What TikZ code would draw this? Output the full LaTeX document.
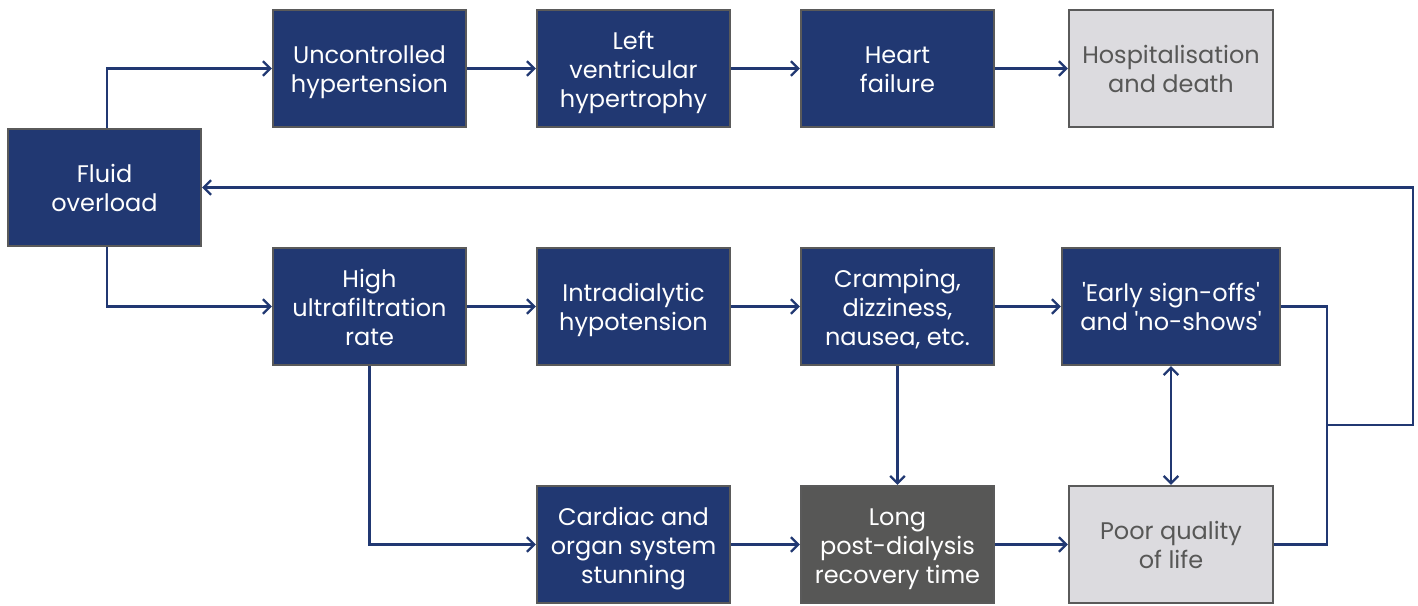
\documentclass[tikz,border=0pt]{standalone}
\usepackage{fontspec}
\setmainfont{Poppins}
\usetikzlibrary{arrows.meta}
\definecolor{navy}{HTML}{213872}
\definecolor{bordergrey}{HTML}{5A5A5A}
\definecolor{darkbox}{HTML}{575756}
\definecolor{lightbox}{HTML}{DCDBDF}
\definecolor{greytext}{HTML}{575756}
\newcommand{\sq}{\textquotesingle}
\newcommand{\tp}{\rule{0pt}{20.5pt}}
\newcommand{\bm}{\rule[-5.7pt]{0pt}{5.7pt}}
\begin{document}
\begin{tikzpicture}[x=0.75pt,y=-0.75pt,
  box/.style={rectangle,draw=bordergrey,line width=1.8pt,fill=navy,text=white,
    minimum width=144.75pt,minimum height=87.75pt,align=center,inner sep=0pt,
    font=\fontsize{18}{21.75}\selectfont},
  lbox/.style={box,fill=lightbox,text=greytext,minimum width=153pt},
  dbox/.style={box,fill=darkbox},
  conn/.style={draw=navy,line width=1.65pt},
  arr/.style={conn,-{Straight Barb[length=5.5pt,width=11pt,line width=1.65pt]}},
  darr/.style={conn,{Straight Barb[length=5.5pt,width=11pt,line width=1.65pt]}-{Straight Barb[length=5.5pt,width=11pt,line width=1.65pt]}}]
\useasboundingbox (0,0) rectangle (1418,606);
\node[box] (fluid) at (104.5,187.5) {\tp Fluid\\overload\bm};
\node[box] (unc) at (369.5,68.5) {\tp Uncontrolled\\hypertension\bm};
\node[box] (lvh) at (633.5,68.5) {\tp Left\\ventricular\\hypertrophy\bm};
\node[box] (hf) at (897.5,68.5) {\tp Heart\\failure\bm};
\node[lbox] (hosp) at (1171,68.5) {\tp Hospitalisation\\and death\bm};
\node[box] (huf) at (369.5,306.5) {\tp High\\ultrafiltration\\rate\bm};
\node[box] (idh) at (633.5,306.5) {\tp Intradialytic\\hypotension\bm};
\node[box] (cramp) at (897.5,306.5) {\tp Cramping,\\dizziness,\\nausea, etc.\bm};
\node[box,minimum width=163.5pt] (early) at (1171,306.5) {\tp\sq Early sign-offs\sq\\and \sq no-shows\sq\bm};
\node[box] (card) at (633.5,544.5) {\tp Cardiac and\\organ system\\stunning\bm};
\node[dbox] (long) at (897.5,544.5) {\tp Long\\post-dialysis\\recovery time\bm};
\node[lbox] (poor) at (1171,544.5) {\tp Poor quality\\of life\bm};
\coordinate (j) at (1327,425);
\coordinate (r) at (1413,425);
\draw[arr] ([xshift=1.9pt]fluid.north) |- (unc.west);
\draw[arr] ([xshift=1.9pt]fluid.south) |- (huf.west);
\draw[arr] (unc) -- (lvh);
\draw[arr] (lvh) -- (hf);
\draw[arr] (hf) -- (hosp);
\draw[arr] (huf) -- (idh);
\draw[arr] (idh) -- (cramp);
\draw[arr] (cramp) -- (early);
\draw[arr] (huf.south) |- (card.west);
\draw[arr] (card) -- (long);
\draw[arr] (long) -- (poor);
\draw[arr] (cramp) -- (long);
\draw[darr] (early) -- (poor);
\draw[conn] (early.east) -| (j);
\draw[conn] (poor.east) -| (j);
\draw[arr] (j) -- (r) |- (fluid.east);
\end{tikzpicture}
\end{document}
